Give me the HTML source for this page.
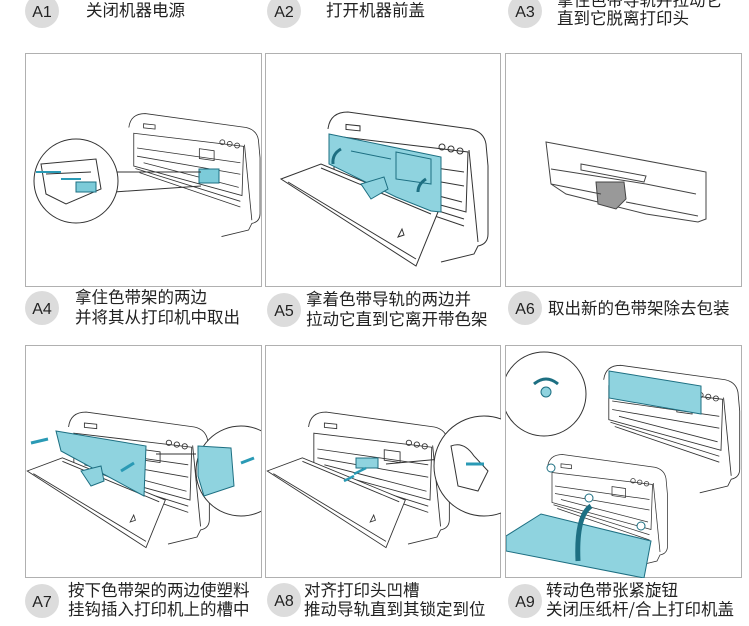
<!DOCTYPE html>
<html><head><meta charset="utf-8"><style>
body{margin:0;background:#fff;width:749px;height:626px;overflow:hidden;font-family:"Liberation Sans","Noto Sans CJK SC",sans-serif}
svg{position:absolute;left:0;top:0}
</style></head><body>
<svg width="749" height="626" viewBox="0 0 749 626" xmlns="http://www.w3.org/2000/svg" font-family="Liberation Sans, Noto Sans CJK SC, sans-serif">
<defs>
<clipPath id="pc"><rect x="0" y="0" width="235" height="232"/></clipPath>
<g id="body" fill="none" stroke="#333" stroke-width="1">
<path d="M62,75 Q64,58 82,58 L205,75 Q218,78 220,90 L222,112 L222,180 Q222,190 212,192 L208,200 L175,208" fill="#fff"/>
<path d="M68,82 L202,98 L200,158 L68,122 Z" fill="#fff"/>
<path d="M72,100 L198,118 M72,110 L198,132 M80,118 L196,148"/>
<path d="M70,125 L198,165 M75,130 L198,172"/>
<path d="M203,96 L212,188"/>
<rect x="148" y="80" width="18" height="12" transform="skewY(8)" />
<circle cx="176" cy="93" r="3"/><circle cx="185" cy="95" r="3"/><circle cx="194" cy="97" r="3"/>
<rect x="80" y="62" width="14" height="5" transform="skewY(6)"/>
</g>
<g id="cover" fill="#fff" stroke="#333" stroke-width="1">
<path d="M15,125 L55,110 L172,158 L150,212 Z"/>
<path d="M22,128 L150,205 M55,114 L165,160" fill="none"/>
<path d="M132,183 l4,-8 l2,6 z" fill="none"/>
</g>
</defs>

<g fill="none" stroke="#b0b0b0" stroke-width="1">
<rect x="25.5" y="53.5" width="236" height="233"/>
<rect x="265.5" y="53.5" width="235" height="233"/>
<rect x="505.5" y="53.5" width="236" height="233"/>
<rect x="25.5" y="345.5" width="236" height="232"/>
<rect x="265.5" y="345.5" width="235" height="232"/>
<rect x="505.5" y="345.5" width="236" height="232"/>
</g>

<g transform="translate(26,54)"><g clip-path="url(#pc)">
<g transform="translate(52,12) scale(0.82)"><use href="#body"/></g>
<rect x="173" y="115" width="20" height="14" fill="#7ccbd9" stroke="#1d6f82"/>
<path d="M85,118 L175,118 M88,138 L175,132" stroke="#333" fill="none"/>
<circle cx="50" cy="127" r="42" fill="#fff" stroke="#333"/>
<path d="M15,110 L70,105 L75,135 L40,150 L20,140 Z M20,120 L65,118" fill="none" stroke="#333"/>
<path d="M10,118 l25,0 M35,125 l20,0" stroke="#2a9ab5" stroke-width="2"/>
<rect x="50" y="128" width="20" height="10" fill="#7ccbd9" stroke="#1d6f82"/>
</g></g>

<g transform="translate(266,54)"><g clip-path="url(#pc)">
<use href="#body"/><use href="#cover"/>
<path d="M63,80 L175,103 L175,158 L165,157 L130,143 L63,110 Z" fill="#8fd3df" stroke="#1d6f82"/>
<path d="M85,97 L125,105 M130,98 L165,105 L165,130 L130,125 Z" fill="none" stroke="#1d6f82"/>
<path d="M95,130 L118,123 L122,135 L105,145 Z" fill="#8fd3df" stroke="#1d6f82"/>
<path d="M75,95 Q66,100 67,110" fill="none" stroke="#1d6f82" stroke-width="3"/>
<path d="M160,125 Q152,130 152,138" fill="none" stroke="#1d6f82" stroke-width="3"/>
</g></g>

<g transform="translate(506,54)" fill="#fff" stroke="#444" stroke-width="1">
<path d="M40,88 L200,118 L200,165 L192,168 L140,160 L60,140 L45,130 Z"/>
<path d="M45,115 L140,130 L190,140 M75,110 L140,122 L138,128 L75,116 Z" fill="none"/>
<path d="M90,128 L118,128 L120,145 L110,155 L92,150 Z" fill="#999"/>
<path d="M45,130 L95,140 M120,148 L192,162" fill="none"/>
</g>

<g transform="translate(26,346)"><g clip-path="url(#pc)">
<g transform="translate(-12,15) scale(0.88)"><use href="#body"/><use href="#cover"/></g>
<path d="M30,85 L120,100 L118,150 L35,105 Z" fill="#8fd3df" stroke="#1d6f82"/>
<path d="M55,125 L75,120 L78,135 L65,140 Z" fill="#8fd3df" stroke="#1d6f82"/>
<path d="M5,97 L22,93 M95,125 L108,117" stroke="#2a9ab5" stroke-width="3"/>
<path d="M130,108 L170,108" stroke="#333"/>
<circle cx="215" cy="125" r="45" fill="#fff" stroke="#333"/>
<path d="M172,100 L205,102 L208,140 L178,150 L172,130 Z" fill="#8fd3df" stroke="#1d6f82"/>
<path d="M215,117 L228,112" stroke="#2a9ab5" stroke-width="3"/>
</g></g>

<g transform="translate(266,346)"><g clip-path="url(#pc)">
<g transform="translate(-12,15) scale(0.88)"><use href="#body"/><use href="#cover"/></g>
<rect x="90" y="112" width="22" height="10" fill="#8fd3df" stroke="#1d6f82"/>
<path d="M78,135 L88,130 M88,128 L100,122" stroke="#2a9ab5" stroke-width="2.5"/>
<path d="M120,118 L175,113" stroke="#333"/>
<circle cx="218" cy="120" r="50" fill="#fff" stroke="#333"/>
<path d="M185,100 Q198,95 208,110 L222,125 L212,145 L192,140 Z" fill="#fff" stroke="#333"/>
<path d="M200,118 L218,118" stroke="#2a9ab5" stroke-width="3"/>
</g></g>

<g transform="translate(506,346)"><g clip-path="url(#pc)">
<g transform="translate(45,-30) scale(0.85)"><use href="#body"/></g>
<path d="M103,25 L195,40 L195,68 L103,52 Z" fill="#8fd3df" stroke="#1d6f82"/>
<circle cx="38" cy="48" r="42" fill="#fff" stroke="#333"/>
<path d="M28,38 Q40,28 52,38" fill="none" stroke="#1d6f82" stroke-width="3"/>
<circle cx="40" cy="46" r="5" fill="#8fd3df" stroke="#1d6f82"/>
<g transform="translate(-5,65) scale(0.75)"><use href="#body"/></g>
<path d="M0,190 L35,168 L145,195 L138,232 L0,205 Z" fill="#8fd3df" stroke="#1d6f82"/>
<path d="M72,215 Q70,170 85,160" fill="none" stroke="#1d6f82" stroke-width="5"/>
<circle cx="45" cy="122" r="4" fill="#fff" stroke="#1d6f82"/>
<circle cx="83" cy="152" r="4" fill="#fff" stroke="#1d6f82"/>
<circle cx="135" cy="180" r="4" fill="#fff" stroke="#1d6f82"/>
</g></g>

<g fill="#dcdcdc">
<circle cx="42" cy="11" r="17"/><circle cx="284" cy="11" r="17"/><circle cx="525" cy="11" r="17"/>
<circle cx="42" cy="308" r="17"/><circle cx="284" cy="310" r="17"/><circle cx="525" cy="308" r="17"/>
<circle cx="42" cy="601" r="17"/><circle cx="284" cy="600" r="17"/><circle cx="525" cy="601" r="17"/>
</g>
<g font-size="16" fill="#222" text-anchor="middle">
<text x="42" y="17">A1</text><text x="284" y="17">A2</text><text x="525" y="17">A3</text>
<text x="42" y="314">A4</text><text x="284" y="316">A5</text><text x="525" y="314">A6</text>
<text x="42" y="607">A7</text><text x="284" y="606">A8</text><text x="525" y="607">A9</text>
</g>
<g font-size="16.5" fill="#222" font-family="Noto Sans CJK SC, sans-serif">
<text x="86" y="16">关闭机器电源</text>
<text x="326" y="16">打开机器前盖</text>
<text x="557" y="6">拿住色带导轨并拉动它</text>
<text x="557" y="24">直到它脱离打印头</text>
<text x="75" y="303">拿住色带架的两边</text>
<text x="75" y="323">并将其从打印机中取出</text>
<text x="306" y="305">拿着色带导轨的两边并</text>
<text x="306" y="325">拉动它直到它离开带色架</text>
<text x="548" y="314">取出新的色带架除去包装</text>
<text x="68" y="596">按下色带架的两边使塑料</text>
<text x="68" y="615">挂钩插入打印机上的槽中</text>
<text x="304" y="596">对齐打印头凹槽</text>
<text x="304" y="615">推动导轨直到其锁定到位</text>
<text x="546" y="596">转动色带张紧旋钮</text>
<text x="546" y="615">关闭压纸杆/合上打印机盖</text>
</g>
</svg>
</body></html>
